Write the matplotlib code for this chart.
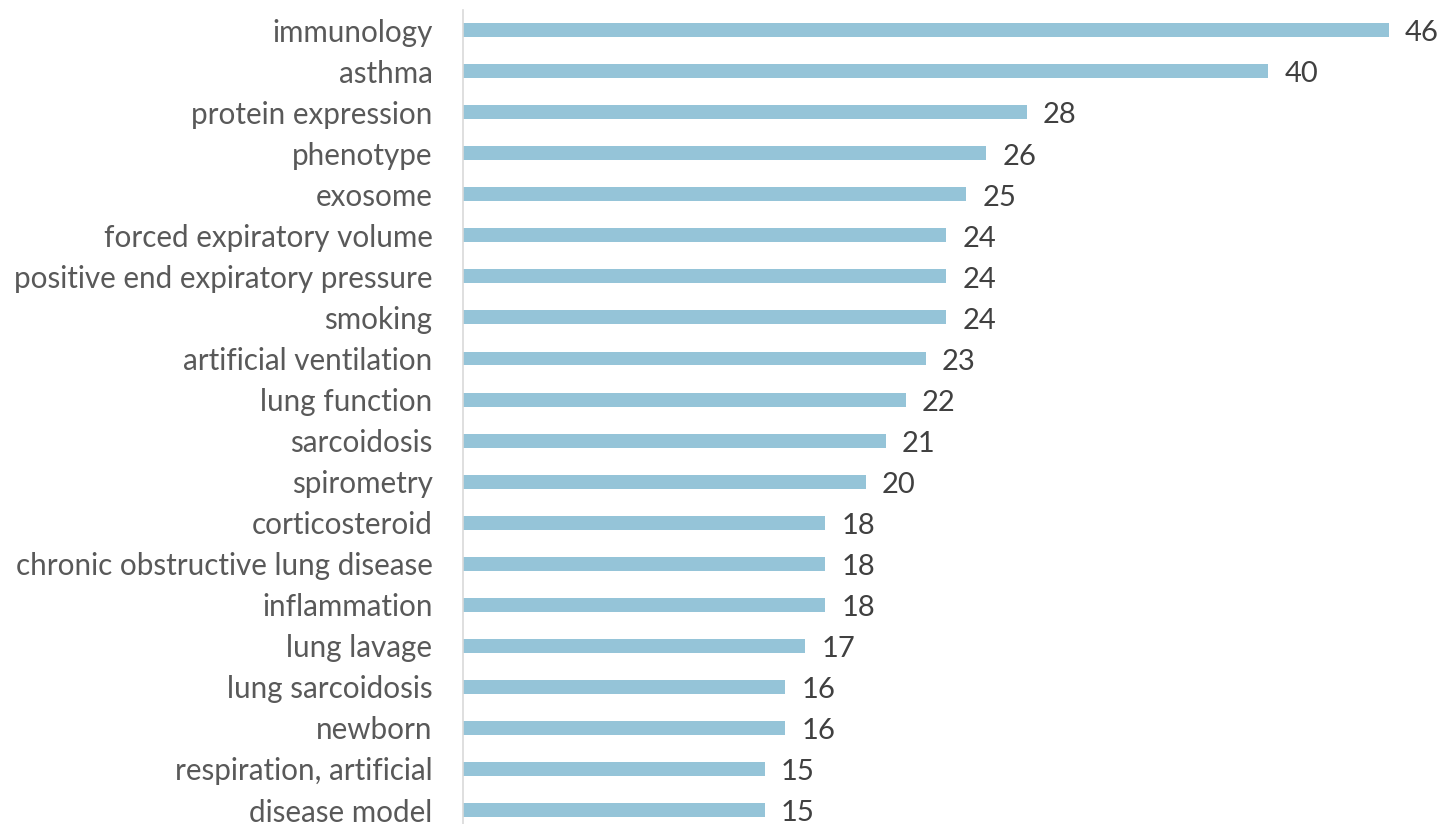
import matplotlib.pyplot as plt

# Keyword counts
categories = ['immunology', 'asthma', 'protein expression', 'phenotype', 'exosome',
              'forced expiratory volume', 'positive end expiratory pressure', 'smoking',
              'artificial ventilation', 'lung function', 'sarcoidosis', 'spirometry',
              'corticosteroid', 'chronic obstructive lung disease', 'inflammation',
              'lung lavage', 'lung sarcoidosis', 'newborn', 'respiration, artificial',
              'disease model']
counts = [46, 40, 28, 26, 25, 24, 24, 24, 23, 22, 21, 20, 18, 18, 18, 17, 16, 16, 15, 15]

plt.rcParams['font.family'] = ['Lato', 'DejaVu Sans']

fig = plt.figure(figsize=(14.4, 8.24), dpi=100)
ax = fig.add_axes([463 / 1440, 0, 1 - 463 / 1440, 1 - 10 / 824])

pos = list(range(len(categories)))
ax.barh(pos, counts, height=0.34, color='#95C4D8')

for y, v in zip(pos, counts):
    ax.text(v + 0.8, y + 0.08, str(v), va='center', ha='left', fontsize=21, color='#404040')

ax.set_yticks(pos)
ax.set_yticklabels(categories, fontsize=21.3, color='#595959')
ax.set_ylim(19.34, -0.49)
ax.set_xlim(0, 977 / 20.13)
ax.set_xticks([])
ax.tick_params(axis='y', length=0, pad=22)

for s in ['top', 'right', 'bottom']:
    ax.spines[s].set_visible(False)
ax.spines['left'].set_color('#D9D9D9')
ax.spines['left'].set_linewidth(1.2)

fig.savefig('out.png', dpi=100)
